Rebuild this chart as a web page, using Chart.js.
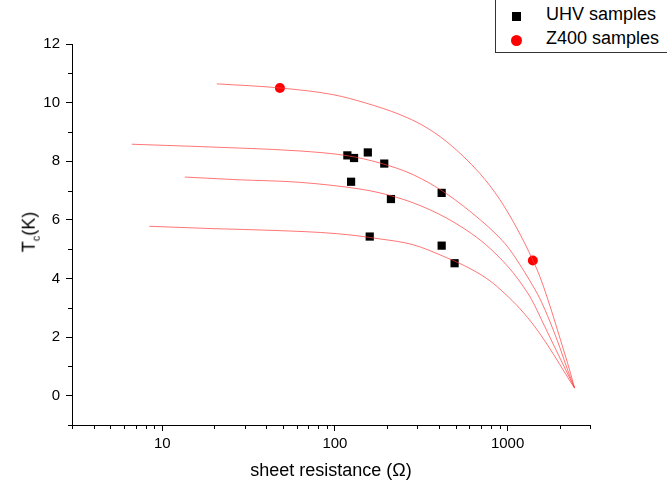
<!DOCTYPE html>
<html>
<head>
<meta charset="utf-8">
<script src="https://cdn.jsdelivr.net/npm/chart.js@4"></script>
<style>
  body { margin: 0; background: #fff; }
  #wrap { position: relative; width: 667px; height: 490px; overflow: hidden; font-family: Arial, "Liberation Sans", sans-serif; }
  #ytitle { position: absolute; left: 30px; top: 232px; transform: translate(-50%, -50%) rotate(-90deg); font-size: 18px; white-space: nowrap; color: #000; }
  #ytitle sub { font-size: 11px; }
  #legend { position: absolute; left: 495px; top: -2px; width: 200px; height: 53px; border: 1px solid #333; background: #fff; font-size: 18px; color: #000; }
  .item { position: absolute; left: 50px; white-space: nowrap; }
  .sq { position: absolute; width: 9px; height: 9px; background: #000; }
  .dot { position: absolute; width: 11px; height: 11px; border-radius: 50%; background: #f00; }
</style>
</head>
<body>
<div id="wrap">
  <canvas id="grafico" width="667" height="490"></canvas>
  <div id="ytitle">T<sub>c</sub>(K)</div>
  <div id="legend">
    <div class="sq" style="left:16px; top:13px;"></div>
    <div class="item" style="top:5px;">UHV samples</div>
    <div class="dot" style="left:15px; top:36px;"></div>
    <div class="item" style="top:29px;">Z400 samples</div>
  </div>
</div>
<script>
// datos
const uhvR = [118, 129, 155, 193, 124, 211, 415, 159, 415, 493];
const uhvTc = [8.20, 8.11, 8.30, 7.92, 7.30, 6.71, 6.92, 5.43, 5.12, 4.52];

const z400R = [48, 1400];
const z400Tc = [10.50, 4.61];

// curvas de ajuste (rojas)
const curva1R = [20.7, 48, 97.8, 152, 238, 323, 443, 691, 902, 1127, 1401, 1538, 1711, 2008, 2295, 2443];
const curva1Tc = [10.64, 10.50, 10.27, 9.98, 9.59, 9.22, 8.67, 7.58, 6.69, 5.73, 4.62, 4.06, 3.28, 1.97, 0.84, 0.26];

const curva2R = [6.65, 14.8, 30.8, 62.7, 117.4, 182, 284, 443, 691, 902, 1031, 1178, 1346, 1538, 1758, 2008, 2234, 2443];
const curva2Tc = [8.58, 8.51, 8.44, 8.35, 8.19, 7.94, 7.54, 6.89, 6.01, 5.38, 4.98, 4.47, 3.92, 3.31, 2.53, 1.64, 0.85, 0.26];

const curva3R = [13.5, 27, 62.7, 140, 182, 284, 443, 691, 902, 1078, 1231, 1377, 1644, 1929, 2204, 2443];
const curva3Tc = [7.46, 7.37, 7.28, 7.05, 6.92, 6.58, 6.06, 5.32, 4.70, 4.19, 3.73, 3.28, 2.35, 1.50, 0.80, 0.26];

const curva4R = [8.41, 19.7, 44, 102, 182, 284, 443, 605, 790, 965, 1178, 1439, 1711, 2008, 2264, 2443];
const curva4Tc = [5.78, 5.70, 5.64, 5.53, 5.35, 5.15, 4.71, 4.34, 3.92, 3.48, 2.97, 2.35, 1.71, 1.06, 0.56, 0.26];

// ticks
const xTicks = [3, 4, 5, 6, 7, 8, 9, 10, 20, 30, 40, 50, 60, 70, 80, 90, 100,
  200, 300, 400, 500, 600, 700, 800, 900, 1000, 2000, 3000];
const xLabels = [10, 100, 1000];
const yMin = -1, yMax = 12;

const FONT = 'Arial, "Liberation Sans", sans-serif';

function puntos(xs, ys) {
  return xs.map((x, i) => ({ x, y: ys[i] }));
}

function curva(xs, ys) {
  return {
    data: puntos(xs, ys),
    showLine: true,
    borderColor: "rgba(255,60,60,0.7)",
    borderWidth: 1,
    pointRadius: 0,
    cubicInterpolationMode: "monotone",
    fill: false
  };
}

// ticks menores mas cortos
const ticksMenores = {
  id: "ticksMenores",
  afterDraw(chart) {
    const ctx = chart.ctx;
    const xs = chart.scales.x, ys = chart.scales.y;
    ctx.save();
    ctx.strokeStyle = "#000";
    ctx.lineWidth = 1;
    ctx.beginPath();
    xs.ticks.forEach(t => {
      if (xLabels.includes(t.value)) return;
      const px = Math.round(xs.getPixelForValue(t.value)) + 0.5;
      ctx.moveTo(px, xs.top);
      ctx.lineTo(px, xs.top + 4);
    });
    ys.ticks.forEach(t => {
      if (t.value % 2 === 0) return;
      const py = Math.round(ys.getPixelForValue(t.value)) + 0.5;
      ctx.moveTo(ys.right, py);
      ctx.lineTo(ys.right - 4, py);
    });
    ctx.stroke();
    ctx.restore();
  }
};

const ctx = document.getElementById("grafico").getContext("2d");
new Chart(ctx, {
  type: "scatter",
  data: {
    datasets: [
      curva(curva1R, curva1Tc),
      curva(curva2R, curva2Tc),
      curva(curva3R, curva3Tc),
      curva(curva4R, curva4Tc),
      {
        label: "UHV samples",
        data: puntos(uhvR, uhvTc),
        pointStyle: "rect",
        pointRadius: 5.8,
        backgroundColor: "#000",
        borderColor: "#000",
        borderWidth: 0
      },
      {
        label: "Z400 samples",
        data: puntos(z400R, z400Tc),
        pointStyle: "circle",
        pointRadius: 5,
        backgroundColor: "#f00",
        borderColor: "#f00",
        borderWidth: 0
      }
    ]
  },
  options: {
    responsive: false,
    animation: false,
    devicePixelRatio: 1,
    layout: { padding: { left: 0, right: 77, top: 44, bottom: 0 } },
    plugins: {
      legend: { display: false },
      tooltip: { enabled: false }
    },
    scales: {
      x: {
        type: "logarithmic",
        min: 3,
        max: 3000,
        afterBuildTicks: scale => {
          scale.ticks = xTicks.map(v => ({ value: v, major: xLabels.includes(v) }));
        },
        afterFit: scale => { scale.height = 65; },
        border: { display: true, color: "#000", width: 1 },
        grid: {
          drawOnChartArea: false,
          drawTicks: true,
          tickLength: 6,
          tickColor: c => (c.tick && xLabels.includes(c.tick.value) ? "#000" : "rgba(0,0,0,0)")
        },
        ticks: {
          autoSkip: false,
          maxRotation: 0,
          padding: 4,
          color: "#000",
          font: { family: FONT, size: 15 },
          callback: v => (xLabels.includes(v) ? String(v) : "")
        },
        title: {
          display: true,
          text: "sheet resistance (Ω)",
          color: "#000",
          font: { family: FONT, size: 18 },
          padding: { top: 0, bottom: 8 }
        }
      },
      y: {
        min: yMin,
        max: yMax,
        afterFit: scale => { scale.width = 72; },
        border: { display: true, color: "#000", width: 1 },
        grid: {
          drawOnChartArea: false,
          drawTicks: true,
          tickLength: 6,
          tickColor: c => (c.tick && c.tick.value % 2 === 0 ? "#000" : "rgba(0,0,0,0)")
        },
        ticks: {
          stepSize: 1,
          autoSkip: false,
          padding: 6,
          color: "#000",
          font: { family: FONT, size: 15 },
          callback: v => (v % 2 === 0 ? String(v) : "")
        }
      }
    }
  },
  plugins: [ticksMenores]
});
</script>
</body>
</html>
